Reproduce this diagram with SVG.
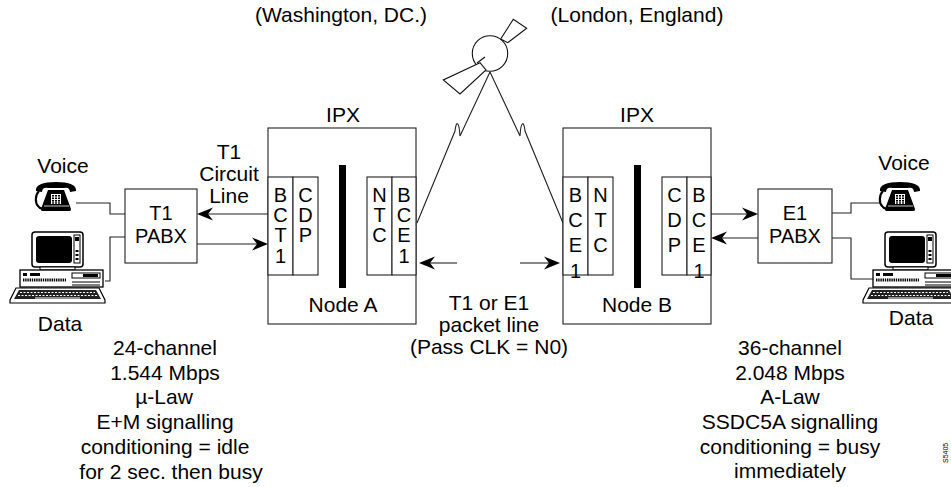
<svg xmlns="http://www.w3.org/2000/svg" width="951" height="487" viewBox="0 0 951 487">
  <style>
    text { font-family: "Liberation Sans", Arial, sans-serif; fill: #000; }
    .t { font-size: 21px; text-anchor: middle; }
    .px { font-size: 20px; text-anchor: middle; }
    .c { font-size: 20px; text-anchor: middle; }
    .box { fill: #fff; stroke: #222; stroke-width: 1.1; }
    .bar { fill: #000; }
    .ln { fill: none; stroke: #222; stroke-width: 1.1; }
    .ah { fill: #000; stroke: none; }
  </style>
  <defs>
    <!-- notched arrowheads, tip at the origin -->
    <path id="ahR" d="M0,0 L-16,-6.5 L-11,0 L-16,6.5 Z"/>
    <path id="ahL" d="M0,0 L16,-6.5 L11,0 L16,6.5 Z"/>
    <!-- desk telephone, 42 x 29 -->
    <g id="phone">
      <path d="M1,9 C0,3 8,0 21,0 C34,0 42,3 41,9 L35,10 C35,6 32,5 29,6 L13,6 C10,5 7,6 7,10 Z" fill="#000"/>
      <path d="M13,8 L29,8 L36,27 C36,29 35,29 34,29 L8,29 C7,29 6,29 6,27 Z" fill="#000"/>
      <rect x="16" y="12" width="10" height="10" fill="#fff"/>
      <g fill="#000">
        <rect x="17" y="13" width="2" height="1.6"/><rect x="20" y="13" width="2" height="1.6"/><rect x="23" y="13" width="2" height="1.6"/>
        <rect x="17" y="15.5" width="2" height="1.6"/><rect x="20" y="15.5" width="2" height="1.6"/><rect x="23" y="15.5" width="2" height="1.6"/>
        <rect x="17" y="18" width="2" height="1.6"/><rect x="20" y="18" width="2" height="1.6"/><rect x="23" y="18" width="2" height="1.6"/>
        <rect x="17" y="20.3" width="2" height="1.4"/><rect x="20" y="20.3" width="2" height="1.4"/><rect x="23" y="20.3" width="2" height="1.4"/>
      </g>
      <path d="M4,9 C0,13 0,21 3,24 C5,27 8,27 9,25" fill="none" stroke="#000" stroke-width="2.2"/>
      <path d="M9,24 L34,24" stroke="#fff" stroke-width="0.8"/>
    </g>
    <!-- personal computer, 95 x 71 -->
    <g id="pc">
      <rect x="22" y="0" width="51" height="35" rx="3" fill="#fff" stroke="#000" stroke-width="1.5"/>
      <rect x="26" y="4" width="36" height="27" rx="3" fill="#000"/>
      <rect x="64" y="3" width="6" height="28" fill="none" stroke="#000" stroke-width="1"/>
      <rect x="65" y="5" width="4" height="4" fill="#000"/>
      <rect x="65.5" y="18" width="3" height="2" fill="#000"/>
      <rect x="65.5" y="22" width="3" height="2" fill="#000"/>
      <rect x="65.5" y="26" width="3" height="2" fill="#000"/>
      <rect x="30" y="35" width="35" height="3" fill="#fff" stroke="#000" stroke-width="1"/>
      <rect x="10" y="38" width="83" height="17" fill="#fff" stroke="#000" stroke-width="1.3"/>
      <rect x="13" y="41" width="4" height="3" fill="#000"/>
      <rect x="20" y="41" width="10" height="3" fill="#000"/>
      <line x1="13" y1="48" x2="56" y2="48" stroke="#000" stroke-width="3" stroke-dasharray="1.4 0.8"/>
      <rect x="62" y="41" width="28" height="5" fill="#fff" stroke="#000" stroke-width="1"/>
      <rect x="73" y="42" width="15" height="3" fill="#000"/>
      <line x1="62" y1="50" x2="90" y2="50" stroke="#000" stroke-width="1"/>
      <line x1="62" y1="53" x2="90" y2="53" stroke="#000" stroke-width="1"/>
      <path d="M6,56 L89,56 L95,68 L95,71 L0,71 L0,68 Z" fill="#fff" stroke="#000" stroke-width="1.2"/>
      <path d="M9,58 L86,58 L91,67 L4,67 Z" fill="#222"/>
      <line x1="10" y1="60.5" x2="85" y2="60.5" stroke="#fff" stroke-width="1" stroke-dasharray="2 1.5"/>
      <line x1="8" y1="63.5" x2="88" y2="63.5" stroke="#fff" stroke-width="1" stroke-dasharray="2 1.5"/>
      <line x1="25" y1="66" x2="70" y2="66" stroke="#fff" stroke-width="1"/>
    </g>
  </defs>

  <rect x="0" y="0" width="951" height="487" fill="#fff"/>

  <!-- site labels -->
  <text class="t" x="341" y="22">(Washington, DC.)</text>
  <text class="t" x="637" y="22">(London, England)</text>

  <!-- satellite -->
  <g id="satellite" fill="#fff" stroke="#111" stroke-width="1.1">
    <polygon points="500.7,39 513.3,19.3 526.7,28.3 507.7,42.7"/>
    <circle cx="490" cy="53.5" r="17.7"/>
    <polygon points="480,62.7 443.3,80 460,94 486,70"/>
    <line x1="477" y1="63" x2="485" y2="57"/>
  </g>

  <!-- connectors -->
  <g id="connectors">
    <!-- satellite links -->
    <path class="ln" d="M417,223 L455,131 C456,121 459,120 460,136 L490,72"/>
    <path class="ln" d="M490,72 L520,136 C521,120 524,121 525,131 L563,223"/>
    <!-- left site -->
    <path class="ln" d="M76,203 L110,203 L110,214 L125,214"/>
    <path class="ln" d="M105,281 L110,281 L110,237 L125,237"/>
    <path class="ln" d="M268,214 L205,214"/>
    <use class="ah" href="#ahL" x="197" y="214"/>
    <path class="ln" d="M197,244 L260,244"/>
    <use class="ah" href="#ahR" x="268" y="244"/>
    <!-- node A internal -->
    <path class="ln" d="M318,213 L359,213"/>
    <use class="ah" href="#ahR" x="367" y="213"/>
    <path class="ln" d="M367,239 L326,239"/>
    <use class="ah" href="#ahL" x="318" y="239"/>
    <!-- packet line -->
    <path class="ln" d="M457,263 L427,263"/>
    <use class="ah" href="#ahL" x="419" y="263"/>
    <path class="ln" d="M520,263 L552,263"/>
    <use class="ah" href="#ahR" x="560" y="263"/>
    <!-- node B internal -->
    <path class="ln" d="M613,213 L654,213"/>
    <use class="ah" href="#ahR" x="662" y="213"/>
    <path class="ln" d="M662,239 L621,239"/>
    <use class="ah" href="#ahL" x="613" y="239"/>
    <!-- right site -->
    <path class="ln" d="M711,214 L750,214"/>
    <use class="ah" href="#ahR" x="758" y="214"/>
    <path class="ln" d="M758,238 L719,238"/>
    <use class="ah" href="#ahL" x="711" y="238"/>
    <path class="ln" d="M832,213 L851,213 L851,203 L881,203"/>
    <path class="ln" d="M832,238 L851,238 L851,279 L874,279"/>
  </g>

  <!-- left terminals -->
  <g id="voice-left">
    <text class="t" x="63" y="173">Voice</text>
    <use href="#phone" x="35" y="182"/>
  </g>
  <g id="data-left">
    <use href="#pc" x="10" y="232"/>
    <text class="t" x="60" y="331">Data</text>
  </g>

  <!-- T1 PABX -->
  <g id="t1-pabx">
    <rect class="box" x="125" y="189" width="72" height="74"/>
    <text class="px" x="161" y="220">T1</text>
    <text class="px" x="161" y="243">PABX</text>
  </g>

  <g id="t1-circuit-label">
    <text class="t" x="229" y="159">T1</text>
    <text class="t" x="229" y="181">Circuit</text>
    <text class="t" x="229" y="203">Line</text>
  </g>

  <!-- Node A -->
  <g id="node-a">
    <text class="t" x="343" y="122">IPX</text>
    <rect class="box" x="268" y="128" width="148" height="196"/>
    <rect class="box" x="268" y="177" width="25" height="98"/>
    <rect class="box" x="293" y="177" width="25" height="98"/>
    <rect class="box" x="367" y="177" width="25" height="98"/>
    <rect class="box" x="392" y="177" width="24" height="98"/>
    <text class="c" x="280.5" y="202">B</text><text class="c" x="280.5" y="222">C</text><text class="c" x="280.5" y="242">T</text><text class="c" x="280.5" y="263">1</text>
    <text class="c" x="305.5" y="202">C</text><text class="c" x="305.5" y="222">D</text><text class="c" x="305.5" y="242">P</text>
    <text class="c" x="379.5" y="202">N</text><text class="c" x="379.5" y="222">T</text><text class="c" x="379.5" y="242">C</text>
    <text class="c" x="404" y="202">B</text><text class="c" x="404" y="222">C</text><text class="c" x="404" y="242">E</text><text class="c" x="404" y="263">1</text>
    <rect class="bar" x="339" y="165" width="7" height="123"/>
    <text class="t" x="343" y="312">Node A</text>
  </g>

  <!-- packet line label -->
  <g id="packet-line-label">
    <text class="t" x="489" y="310">T1 or E1</text>
    <text class="t" x="489" y="332">packet line</text>
    <text class="t" x="489" y="354">(Pass CLK = N0)</text>
  </g>

  <!-- Node B -->
  <g id="node-b">
    <text class="t" x="637" y="122">IPX</text>
    <rect class="box" x="563" y="128" width="148" height="196"/>
    <rect class="box" x="563" y="177" width="25" height="98"/>
    <rect class="box" x="588" y="177" width="25" height="98"/>
    <rect class="box" x="662" y="177" width="25" height="98"/>
    <rect class="box" x="687" y="177" width="24" height="98"/>
    <text class="c" x="575.5" y="202">B</text><text class="c" x="575.5" y="227">C</text><text class="c" x="575.5" y="252">E</text><text class="c" x="575.5" y="278">1</text>
    <text class="c" x="600.5" y="202">N</text><text class="c" x="600.5" y="227">T</text><text class="c" x="600.5" y="252">C</text>
    <text class="c" x="674.5" y="202">C</text><text class="c" x="674.5" y="227">D</text><text class="c" x="674.5" y="252">P</text>
    <text class="c" x="699" y="202">B</text><text class="c" x="699" y="227">C</text><text class="c" x="699" y="252">E</text><text class="c" x="699" y="278">1</text>
    <rect class="bar" x="634" y="165" width="7" height="123"/>
    <text class="t" x="637" y="312">Node B</text>
  </g>

  <!-- E1 PABX -->
  <g id="e1-pabx">
    <rect class="box" x="758" y="189" width="74" height="74"/>
    <text class="px" x="795" y="220">E1</text>
    <text class="px" x="795" y="243">PABX</text>
  </g>

  <!-- right terminals -->
  <g id="voice-right">
    <text class="t" x="904" y="170">Voice</text>
    <use href="#phone" x="879" y="182"/>
  </g>
  <g id="data-right">
    <use href="#pc" x="863" y="232"/>
    <text class="t" x="911" y="325">Data</text>
  </g>

  <!-- line parameters -->
  <g id="t1-params">
    <text class="t" x="165" y="355">24-channel</text>
    <text class="t" x="165" y="380">1.544 Mbps</text>
    <text class="t" x="164" y="404">µ-Law</text>
    <text class="t" x="165" y="429">E+M signalling</text>
    <text class="t" x="165" y="454">conditioning = idle</text>
    <text class="t" x="171" y="479">for 2 sec. then busy</text>
  </g>
  <g id="e1-params">
    <text class="t" x="790" y="355">36-channel</text>
    <text class="t" x="790" y="380">2.048 Mbps</text>
    <text class="t" x="790" y="404">A-Law</text>
    <text class="t" x="790" y="429">SSDC5A signalling</text>
    <text class="t" x="790" y="454">conditioning = busy</text>
    <text class="t" x="790" y="478">immediately</text>
  </g>

  <text x="948" y="463" transform="rotate(-90 948 463)" style="font-size:7px">S5405</text>
</svg>
